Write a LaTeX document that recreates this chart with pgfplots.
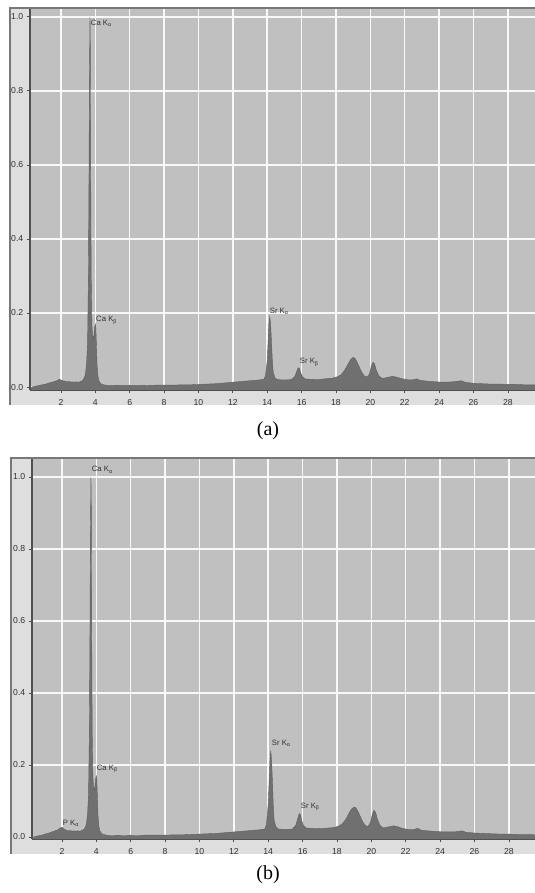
\documentclass[border=0pt]{standalone}
\usepackage{pgfplots}
\pgfplotsset{compat=1.18}
\usepackage{fontspec}
\setmainfont{Liberation Sans}
\newfontfamily\capfont{Liberation Serif}
\definecolor{plotbg}{RGB}{192,192,192}
\definecolor{framebg}{RGB}{222,222,222}
\definecolor{framedraw}{RGB}{120,120,120}
\definecolor{spec}{RGB}{112,112,112}
\definecolor{specdark}{RGB}{95,95,95}
\definecolor{axgray}{RGB}{80,80,80}
\definecolor{lab}{RGB}{50,50,50}
\pgfplotsset{
  eds/.style={
    scale only axis,
    xmin=0.2, xmax=29.58,
    axis background/.style={fill=plotbg},
    grid=major,
    grid style={white, line width=1.1pt, opacity=0.9},
    xtick={2,4,...,28},
    ytick={0,0.2,0.4,0.6,0.8,1.0},
    yticklabel style={/pgf/number format/fixed, /pgf/number format/fixed zerofill, /pgf/number format/precision=1},
    /pgf/number format/assume math mode=true,
    tick label style={font=\fontsize{6.5}{7.5}\selectfont, color=lab},
    axis x line*=bottom, axis y line*=left,
    axis line style={axgray, line width=1.2pt, -},
    tick align=outside,
    major tick length=2.5pt,
    tick style={axgray, line width=0.5pt},
    xticklabel style={yshift=-1pt},
    yticklabel style={xshift=1pt},
    clip=true,
  }
}
\tikzset{pk/.style={font=\fontsize{5.8}{6.5}\selectfont, color=lab, inner sep=0.5pt}}
\begin{document}
\begin{tikzpicture}
\useasboundingbox (0,0) rectangle (401.25pt,669.75pt);
% outer frames
\fill[framebg] (7.5pt,366pt) rectangle (401.25pt,663.75pt);
\draw[framedraw, line width=1.2pt] (7.5pt,366pt) -- (7.5pt,663.75pt) -- (401.25pt,663.75pt);
\fill[framebg] (8.25pt,29.25pt) rectangle (401.25pt,326.25pt);
\draw[framedraw, line width=1.2pt] (8.25pt,29.25pt) -- (8.25pt,326.25pt) -- (401.25pt,326.25pt);

% ---------------- panel (a)
\begin{axis}[eds, at={(22.5pt,377.25pt)}, anchor=south west,
  width=378.75pt, height=285.75pt, ymin=-0.008, ymax=1.021]
\addplot[fill=spec, draw=specdark, line width=0.3pt] coordinates {
(0.2,-0.02)(0.3,0.000)(0.4,0.001)(0.5,0.002)(0.6,0.003)(0.7,0.004)(0.8,0.005)(0.9,0.006)(1.0,0.007)(1.1,0.008)(1.2,0.009)(1.3,0.011)(1.4,0.012)(1.5,0.013)(1.6,0.015)(1.7,0.016)(1.8,0.018)(1.9,0.021)(2.0,0.019)(2.1,0.017)(2.2,0.016)(2.3,0.015)(2.4,0.014)(2.5,0.015)(2.6,0.013)(2.7,0.014)(2.8,0.013)(2.9,0.014)(3.0,0.013)(3.1,0.014)(3.2,0.016)(3.3,0.020)(3.4,0.030)(3.45,0.045)(3.5,0.07)(3.55,0.12)(3.6,0.30)(3.63,0.55)(3.66,0.85)(3.69,1.0)(3.71,0.92)(3.73,0.60)(3.76,0.30)(3.8,0.17)(3.84,0.14)(3.88,0.13)(3.92,0.14)(3.96,0.16)(4.0,0.17)(4.03,0.16)(4.06,0.12)(4.1,0.06)(4.15,0.03)(4.2,0.018)(4.3,0.010)(4.4,0.007)(4.6,0.005)(4.8,0.004)(5.0,0.004)(5.25,0.005)(5.5,0.004)(5.75,0.004)(6.0,0.005)(6.25,0.004)(6.5,0.004)(6.75,0.005)(7.0,0.004)(7.5,0.005)(8.0,0.005)(8.5,0.005)(9.0,0.006)(9.5,0.006)(10.0,0.007)(10.5,0.008)(11.0,0.009)(11.5,0.011)(12.0,0.013)(12.5,0.015)(13.0,0.017)(13.5,0.019)(13.8,0.021)(13.9,0.03)(14.0,0.07)(14.05,0.12)(14.1,0.17)(14.15,0.19)(14.2,0.17)(14.25,0.12)(14.3,0.07)(14.35,0.04)(14.45,0.025)(14.6,0.02)(15.0,0.019)(15.4,0.02)(15.6,0.028)(15.7,0.04)(15.8,0.052)(15.88,0.05)(15.95,0.038)(16.05,0.028)(16.2,0.022)(16.5,0.021)(17.0,0.02)(17.5,0.023)(17.8,0.024)(18.1,0.028)(18.3,0.033)(18.5,0.045)(18.7,0.062)(18.85,0.074)(19.0,0.08)(19.1,0.078)(19.2,0.07)(19.35,0.055)(19.5,0.04)(19.65,0.03)(19.8,0.027)(19.95,0.035)(20.05,0.055)(20.15,0.067)(20.25,0.062)(20.35,0.045)(20.5,0.03)(20.7,0.023)(20.9,0.025)(21.1,0.027)(21.3,0.029)(21.5,0.027)(21.8,0.023)(22.1,0.02)(22.4,0.019)(22.7,0.022)(22.9,0.018)(23.3,0.016)(23.8,0.014)(24.3,0.013)(24.8,0.014)(25.3,0.017)(25.5,0.013)(26.0,0.010)(26.5,0.009)(27.0,0.008)(27.5,0.008)(28.0,0.007)(28.5,0.007)(29.0,0.006)(29.6,0.006)(29.7,-0.02)
} -- cycle;
\node[pk, anchor=west] at (axis cs:3.69,0.982) {Ca K\textsubscript{α}};
\node[pk, anchor=west] at (axis cs:4.0,0.18) {Ca K\textsubscript{β}};
\node[pk, anchor=west] at (axis cs:14.1,0.205) {Sr K\textsubscript{α}};
\node[pk, anchor=west] at (axis cs:15.85,0.067) {Sr K\textsubscript{β}};
\end{axis}
\node[font=\capfont\fontsize{15}{18}\selectfont] at (201pt,346.5pt) {(a)};

% ---------------- panel (b)
\begin{axis}[eds, at={(24pt,40.5pt)}, anchor=south west,
  width=377.25pt, height=285pt, xmin=0.26, xmax=29.52, ymin=-0.0056, ymax=1.05]
\addplot[fill=spec, draw=specdark, line width=0.3pt] coordinates {
(0.26,-0.02)(0.3,0.000)(0.4,0.001)(0.5,0.002)(0.6,0.003)(0.7,0.004)(0.8,0.005)(0.9,0.006)(1.0,0.008)(1.1,0.009)(1.2,0.010)(1.3,0.012)(1.4,0.014)(1.5,0.015)(1.6,0.017)(1.7,0.019)(1.8,0.021)(1.9,0.025)(2.0,0.027)(2.1,0.023)(2.2,0.020)(2.3,0.018)(2.4,0.017)(2.5,0.018)(2.6,0.016)(2.7,0.017)(2.8,0.016)(2.9,0.017)(3.0,0.016)(3.1,0.017)(3.2,0.019)(3.3,0.022)(3.4,0.032)(3.45,0.045)(3.5,0.07)(3.55,0.12)(3.6,0.30)(3.63,0.55)(3.66,0.85)(3.69,1.0)(3.71,0.92)(3.73,0.60)(3.76,0.30)(3.8,0.17)(3.84,0.14)(3.88,0.13)(3.92,0.14)(3.96,0.16)(4.0,0.17)(4.03,0.16)(4.06,0.12)(4.1,0.06)(4.15,0.03)(4.2,0.018)(4.3,0.010)(4.4,0.007)(4.6,0.005)(4.8,0.004)(5.0,0.004)(5.25,0.005)(5.5,0.004)(5.75,0.004)(6.0,0.005)(6.25,0.004)(6.5,0.004)(6.75,0.005)(7.0,0.005)(7.5,0.005)(8.0,0.005)(8.5,0.006)(9.0,0.006)(9.5,0.007)(10.0,0.008)(10.5,0.009)(11.0,0.010)(11.5,0.012)(12.0,0.014)(12.5,0.016)(13.0,0.018)(13.5,0.020)(13.8,0.022)(13.9,0.035)(14.0,0.09)(14.05,0.15)(14.1,0.21)(14.15,0.24)(14.2,0.21)(14.25,0.15)(14.3,0.08)(14.35,0.045)(14.45,0.028)(14.6,0.022)(15.0,0.021)(15.4,0.022)(15.6,0.032)(15.7,0.048)(15.8,0.065)(15.88,0.062)(15.95,0.045)(16.05,0.032)(16.2,0.025)(16.5,0.024)(17.0,0.023)(17.5,0.025)(17.8,0.026)(18.1,0.030)(18.3,0.036)(18.5,0.048)(18.7,0.066)(18.85,0.078)(19.0,0.083)(19.1,0.081)(19.2,0.073)(19.35,0.058)(19.5,0.042)(19.65,0.032)(19.8,0.029)(19.95,0.04)(20.05,0.062)(20.15,0.074)(20.25,0.068)(20.35,0.05)(20.5,0.032)(20.7,0.025)(20.9,0.027)(21.1,0.029)(21.3,0.031)(21.5,0.029)(21.8,0.024)(22.1,0.021)(22.4,0.020)(22.7,0.024)(22.9,0.019)(23.3,0.017)(23.8,0.015)(24.3,0.014)(24.8,0.014)(25.3,0.017)(25.5,0.013)(26.0,0.011)(26.5,0.010)(27.0,0.009)(27.5,0.008)(28.0,0.008)(28.5,0.007)(29.0,0.007)(29.55,0.006)(29.6,-0.02)
} -- cycle;
\node[pk, anchor=west] at (axis cs:3.69,1.02) {Ca K\textsubscript{α}};
\node[pk, anchor=west] at (axis cs:3.98,0.19) {Ca K\textsubscript{β}};
\node[pk, anchor=west] at (axis cs:2.0,0.038) {P K\textsubscript{α}};
\node[pk, anchor=west] at (axis cs:14.16,0.26) {Sr K\textsubscript{α}};
\node[pk, anchor=west] at (axis cs:15.85,0.083) {Sr K\textsubscript{β}};
\end{axis}
\node[font=\capfont\fontsize{15}{18}\selectfont] at (201pt,13.5pt) {(b)};
\end{tikzpicture}
\end{document}
